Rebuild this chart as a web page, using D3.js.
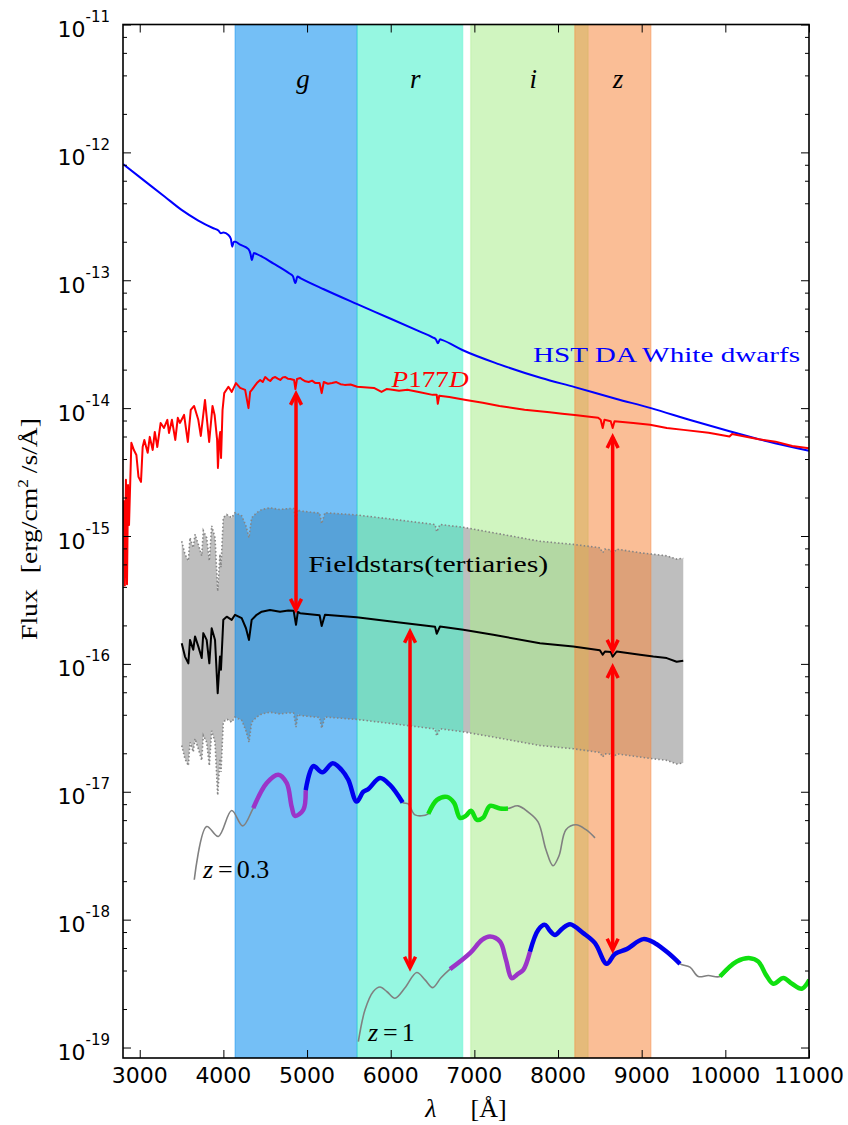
<!DOCTYPE html>
<html>
<head>
<meta charset="utf-8">
<script src="https://cdn.jsdelivr.net/npm/d3@7"></script>
<style>
  body { margin: 0; background: #fff; }
  .tick-label { font-family: "DejaVu Sans", sans-serif; fill: #000; }
  .serif { font-family: "Liberation Serif", "DejaVu Serif", serif; }
</style>
</head>
<body>
<svg id="chart" width="848" height="1125"></svg>
<script>
// ---- data ----
// filter bands (Angstrom)
const bandNames = ["g", "r", "i", "z"];
const bandLo = [4140, 5600, 6956, 8200];
const bandHi = [5600, 6860, 8360, 9110];

// HST DA white dwarf spectrum [lambda, flux]
const wdSpec = [
  [2800, 8.1e-13], [3000, 6.4e-13], [3300, 4.5e-13], [3500, 3.55e-13], [3700, 2.93e-13],
  [3880, 2.55e-13], [3940, 2.45e-13], [3970, 2.33e-13], [4000, 2.36e-13], [4060, 2.26e-13],
  [4090, 2.1e-13], [4105, 1.83e-13], [4125, 2.0e-13], [4140, 2.0e-13], [4200, 1.9e-13],
  [4300, 1.75e-13], [4325, 1.6e-13], [4340, 1.44e-13], [4365, 1.63e-13], [4400, 1.6e-13],
  [4600, 1.35e-13], [4790, 1.13e-13], [4830, 1.08e-13], [4861, 9.5e-14], [4885, 1.07e-13],
  [4920, 1.04e-13], [5200, 8.5e-14], [5600, 6.5e-14], [6000, 5.0e-14], [6350, 3.96e-14],
  [6500, 3.58e-14], [6540, 3.45e-14], [6563, 3.22e-14], [6590, 3.45e-14], [6620, 3.4e-14],
  [6856, 2.85e-14], [7300, 2.2e-14], [7800, 1.72e-14], [8200, 1.46e-14], [8700, 1.18e-14],
  [9110, 1.0e-14], [9600, 8.0e-15], [10050, 6.6e-15], [10500, 5.5e-15], [11000, 4.63e-15]
];

// P177D standard star spectrum [lambda, flux]
const p177dSpec = [
  [2810, 1.9e-15], [2822, 4.1e-16], [2835, 2.75e-15], [2848, 4.2e-16], [2860, 2.5e-15],
  [2872, 1.22e-15], [2900, 5.35e-15], [2930, 4.7e-15], [2960, 4.3e-15], [2985, 2.9e-15],
  [3015, 2.65e-15], [3035, 4.97e-15], [3055, 5.64e-15], [3095, 4.47e-15], [3120, 5.96e-15],
  [3155, 4.71e-15], [3180, 6.52e-15], [3210, 4.97e-15], [3250, 7.66e-15], [3290, 7.0e-15],
  [3330, 8.1e-15], [3350, 6.4e-15], [3385, 8.1e-15], [3425, 5.64e-15], [3455, 8.4e-15],
  [3480, 7.66e-15], [3530, 8.85e-15], [3575, 5.44e-15], [3610, 9.7e-15], [3650, 1.04e-14],
  [3700, 8.1e-15], [3730, 6.06e-15], [3780, 1.16e-14], [3830, 5.44e-15], [3870, 1.04e-14],
  [3895, 8.85e-15], [3925, 5.64e-15], [3935, 3.41e-15], [3950, 5.64e-15], [3962, 6.52e-15],
  [3972, 4.08e-15], [3990, 9.7e-15], [4010, 1.31e-14], [4060, 1.47e-14], [4100, 1.34e-14],
  [4150, 1.57e-14], [4200, 1.44e-14], [4260, 1.39e-14], [4300, 1.0e-14], [4320, 1.34e-14],
  [4340, 1.39e-14], [4400, 1.57e-14], [4440, 1.66e-14], [4470, 1.6e-14], [4500, 1.75e-14],
  [4530, 1.68e-14], [4560, 1.63e-14], [4590, 1.72e-14], [4620, 1.75e-14], [4650, 1.7e-14],
  [4680, 1.66e-14], [4710, 1.74e-14], [4740, 1.75e-14], [4770, 1.7e-14], [4800, 1.69e-14],
  [4845, 1.66e-14], [4861, 1.41e-14], [4880, 1.69e-14], [4920, 1.72e-14], [4950, 1.66e-14],
  [4980, 1.62e-14], [5020, 1.6e-14], [5060, 1.64e-14], [5100, 1.57e-14], [5150, 1.57e-14],
  [5175, 1.31e-14], [5200, 1.6e-14], [5250, 1.55e-14], [5300, 1.57e-14], [5350, 1.6e-14],
  [5400, 1.54e-14], [5450, 1.52e-14], [5520, 1.53e-14], [5600, 1.47e-14], [5800, 1.44e-14],
  [5890, 1.34e-14], [5950, 1.41e-14], [6000, 1.4e-14], [6100, 1.37e-14], [6200, 1.39e-14],
  [6350, 1.33e-14], [6500, 1.27e-14], [6550, 1.27e-14], [6563, 1.08e-14], [6580, 1.25e-14],
  [6700, 1.22e-14], [6900, 1.16e-14], [7100, 1.1e-14], [7300, 1.04e-14], [7500, 9.95e-15],
  [7600, 9.7e-15], [7900, 9.3e-15], [8050, 9.05e-15], [8200, 8.85e-15], [8350, 8.6e-15],
  [8480, 8.4e-15], [8510, 8.1e-15], [8534, 7.0e-15], [8555, 8.1e-15], [8630, 7.9e-15],
  [8653, 7.0e-15], [8675, 7.9e-15], [8900, 7.66e-15], [9100, 7.4e-15], [9300, 7.0e-15],
  [9500, 6.76e-15], [9800, 6.43e-15], [10050, 6.0e-15], [10080, 6.28e-15], [10400, 5.71e-15],
  [10600, 5.47e-15], [10800, 5.06e-15], [11000, 4.85e-15]
];

// field stars (tertiaries): typical spectrum and the upper / lower envelope
const fieldLambda = [
  3502, 3541, 3581, 3601, 3640, 3661, 3700, 3741, 3760, 3800, 3832, 3860, 3900, 3932, 3959,
  3971, 3999, 4040, 4099, 4139, 4219, 4270, 4306, 4338, 4398, 4458, 4557, 4677, 4776, 4840,
  4868, 4890, 4916, 5150, 5175, 5214, 5593, 6031, 6530, 6550, 6589, 6868, 7226, 7784, 8182,
  8500, 8534, 8561, 8630, 8653, 8701, 8980, 9139, 9299, 9418, 9497
];
const fieldMid = [
  1.45e-16, 1.14e-16, 1.01e-16, 1.54e-16, 1.29e-16, 1.64e-16, 1.37e-16, 1.11e-16, 1.74e-16, 1.54e-16,
  1.01e-16, 1.9e-16, 1.54e-16, 5.9e-17, 1.14e-16, 9.0e-17, 2.21e-16, 2.34e-16, 2.21e-16, 2.42e-16,
  2.28e-16, 1.9e-16, 1.54e-16, 2.21e-16, 2.42e-16, 2.56e-16, 2.64e-16, 2.56e-16, 2.61e-16, 2.6e-16,
  2.02e-16, 2.55e-16, 2.49e-16, 2.4e-16, 1.98e-16, 2.42e-16, 2.32e-16, 2.14e-16, 1.95e-16, 1.72e-16,
  1.96e-16, 1.85e-16, 1.69e-16, 1.45e-16, 1.37e-16, 1.28e-16, 1.18e-16, 1.25e-16, 1.24e-16, 1.14e-16,
  1.25e-16, 1.18e-16, 1.14e-16, 1.11e-16, 1.04e-16, 1.06e-16
];
const fieldHigh = [
  9.1e-16, 7.2e-16, 6.4e-16, 9.7e-16, 8.1e-16, 1.03e-15, 8.6e-16, 7.0e-16, 1.1e-15, 9.7e-16,
  6.4e-16, 1.2e-15, 9.7e-16, 3.7e-16, 7.2e-16, 5.7e-16, 1.39e-15, 1.47e-15, 1.39e-15, 1.52e-15,
  1.44e-15, 1.2e-15, 9.7e-16, 1.39e-15, 1.52e-15, 1.61e-15, 1.66e-15, 1.61e-15, 1.64e-15, 1.64e-15,
  1.27e-15, 1.61e-15, 1.57e-15, 1.51e-15, 1.25e-15, 1.52e-15, 1.46e-15, 1.35e-15, 1.23e-15, 1.08e-15,
  1.23e-15, 1.17e-15, 1.06e-15, 9.1e-16, 8.6e-16, 8.1e-16, 7.4e-16, 7.9e-16, 7.8e-16, 7.2e-16,
  7.9e-16, 7.4e-16, 7.2e-16, 7.0e-16, 6.6e-16, 6.7e-16
];
const fieldLow = [
  2.3e-17, 1.81e-17, 1.6e-17, 2.44e-17, 2.05e-17, 2.6e-17, 2.17e-17, 1.76e-17, 2.76e-17, 2.44e-17,
  1.6e-17, 3.0e-17, 2.44e-17, 9.4e-18, 1.81e-17, 1.43e-17, 3.5e-17, 3.7e-17, 3.5e-17, 3.84e-17,
  3.62e-17, 3.0e-17, 2.44e-17, 3.5e-17, 3.84e-17, 4.06e-17, 4.19e-17, 4.06e-17, 4.14e-17, 4.13e-17,
  3.2e-17, 4.05e-17, 3.95e-17, 3.81e-17, 3.14e-17, 3.84e-17, 3.68e-17, 3.4e-17, 3.1e-17, 2.73e-17,
  3.11e-17, 2.94e-17, 2.68e-17, 2.3e-17, 2.17e-17, 2.03e-17, 1.87e-17, 1.98e-17, 1.97e-17, 1.81e-17,
  1.98e-17, 1.87e-17, 1.81e-17, 1.76e-17, 1.65e-17, 1.68e-17
];

// galaxy template at z = 0.3 and z = 1 [lambda, flux]
const galZ03 = [
  [3652, 2.05e-18], [3800, 5.35e-18], [3939, 4.47e-18], [4099, 7.13e-18], [4231, 5.41e-18],
  [4357, 7.45e-18], [4518, 1.17e-17], [4656, 1.36e-17], [4757, 1.17e-17], [4816, 7.66e-18],
  [4856, 6.48e-18], [4955, 7.22e-18], [4984, 1.03e-17], [5075, 1.59e-17], [5182, 1.42e-17],
  [5307, 1.67e-17], [5414, 1.48e-17], [5493, 1.24e-17], [5593, 8.38e-18], [5672, 1.0e-17],
  [5732, 1.05e-17], [5872, 1.28e-17], [5991, 1.13e-17], [6143, 8.24e-18], [6210, 8.04e-18],
  [6290, 6.6e-18], [6449, 6.72e-18], [6553, 8.64e-18], [6673, 9.12e-18], [6757, 8.19e-18],
  [6828, 6.25e-18], [6900, 6.5e-18], [6960, 7.1e-18], [7031, 6.03e-18], [7103, 6.25e-18],
  [7187, 7.76e-18], [7306, 7.4e-18], [7402, 7.4e-18], [7521, 7.76e-18], [7641, 6.96e-18],
  [7761, 5.82e-18], [7856, 3.52e-18], [7940, 2.64e-18], [8012, 3.16e-18], [8095, 5.05e-18],
  [8215, 5.52e-18], [8334, 5.05e-18], [8442, 4.36e-18]
];
const galZ1 = [
  [5613, 1.11e-19], [5693, 1.97e-19], [5792, 2.74e-19], [5872, 2.97e-19], [5956, 2.73e-19],
  [6051, 2.43e-19], [6171, 2.93e-19], [6311, 3.86e-19], [6410, 3.38e-19], [6502, 2.94e-19],
  [6601, 3.51e-19], [6709, 4.1e-19], [6948, 5.47e-19], [7091, 6.95e-19], [7187, 7.38e-19],
  [7306, 6.74e-19], [7378, 4.85e-19], [7446, 3.49e-19], [7521, 3.77e-19], [7585, 4.05e-19],
  [7665, 5.63e-19], [7764, 8.32e-19], [7844, 9.1e-19], [7904, 8.17e-19], [7964, 7.6e-19],
  [8048, 8.47e-19], [8143, 9.22e-19], [8302, 7.84e-19], [8442, 6.55e-19], [8582, 4.51e-19],
  [8681, 5.4e-19], [8821, 5.88e-19], [9019, 7.04e-19], [9159, 6.55e-19], [9315, 5.5e-19],
  [9458, 4.51e-19], [9577, 4.25e-19], [9677, 3.59e-19], [9796, 3.66e-19], [9936, 3.59e-19],
  [10136, 4.7e-19], [10295, 5.0e-19], [10395, 4.7e-19], [10486, 3.7e-19], [10574, 3.15e-19],
  [10694, 3.49e-19], [10797, 3.15e-19], [10913, 2.88e-19], [11004, 3.38e-19]
];
// highlighted features of the galaxy template (lambda ranges)
const z03Features = [["uv", 4357, 4984], ["break", 4984, 6143], ["lines", 6449, 7402]];
const z1Features = [["uv", 6709, 7665], ["break", 7665, 9458], ["lines", 9936, 11004]];

// double-headed red arrows: lambda, top flux, bottom flux
const arrowLambda = [4868, 6231, 8653, 8653];
const arrowTop = [1.34e-14, 1.85e-16, 6.17e-15, 9.8e-17];
const arrowBottom = [2.55e-16, 4.05e-19, 1.22e-16, 5.6e-19];

const xTicks = [3000, 4000, 5000, 6000, 7000, 8000, 9000, 10000, 11000];
const yExponents = [-19, -18, -17, -16, -15, -14, -13, -12, -11];

// ---- chart ----
const svg = d3.select("#chart");
const plotLeft = 123, plotRight = 809, plotTop = 24.5, plotBottom = 1058;

const x = d3.scaleLinear().domain([2800, 11000]).range([plotLeft, plotRight]);
const y = d3.scaleLog().domain([8.28e-20, 1e-11]).range([plotBottom, plotTop]);

svg.append("rect").attr("width", 848).attr("height", 1125).attr("fill", "#fff");

svg.append("clipPath").attr("id", "clip")
  .append("rect")
  .attr("x", plotLeft).attr("y", plotTop)
  .attr("width", plotRight - plotLeft).attr("height", plotBottom - plotTop);

const plot = svg.append("g").attr("clip-path", "url(#clip)");

// grey envelope of the field stars
const envelope = d3.area()
  .x((d, i) => x(fieldLambda[i]))
  .y0((d, i) => y(fieldLow[i]))
  .y1((d, i) => y(fieldHigh[i]));
plot.append("path")
  .datum(fieldLambda)
  .attr("d", envelope)
  .attr("fill", "#bebebe");

// filter bands
const bandColors = ["rgb(2,138,239)", "rgb(64,240,200)", "rgb(170,237,140)", "rgb(246,137,64)"];
plot.selectAll("rect.band")
  .data(bandNames)
  .join("rect")
  .attr("class", "band")
  .attr("x", (d, i) => x(bandLo[i]))
  .attr("width", (d, i) => x(bandHi[i]) - x(bandLo[i]))
  .attr("y", plotTop)
  .attr("height", plotBottom - plotTop)
  .attr("fill", (d, i) => bandColors[i])
  .attr("fill-opacity", 0.55)
  .attr("stroke", (d, i) => bandColors[i])
  .attr("stroke-opacity", 0.35)
  .attr("stroke-width", 1.5);

const line = d3.line().x(d => x(d[0])).y(d => y(d[1]));

// dotted envelope edges
[fieldHigh, fieldLow].forEach(function(edge) {
  plot.append("path")
    .datum(fieldLambda.map((l, i) => [l, edge[i]]))
    .attr("d", line)
    .attr("fill", "none")
    .attr("stroke", "#858585")
    .attr("stroke-width", 1.6)
    .attr("stroke-dasharray", "1.5,2.2");
});

// typical field star
plot.append("path")
  .datum(fieldLambda.map((l, i) => [l, fieldMid[i]]))
  .attr("d", line)
  .attr("fill", "none")
  .attr("stroke", "#000")
  .attr("stroke-width", 2)
  .attr("stroke-linejoin", "round");

// white dwarf and P177D
plot.append("path")
  .datum(wdSpec)
  .attr("d", line.curve(d3.curveMonotoneX))
  .attr("fill", "none")
  .attr("stroke", "#0000ff")
  .attr("stroke-width", 2);
line.curve(d3.curveLinear);

plot.append("path")
  .datum(p177dSpec)
  .attr("d", line)
  .attr("fill", "none")
  .attr("stroke", "#ff0000")
  .attr("stroke-width", 2)
  .attr("stroke-linejoin", "round");

// galaxy templates
const smooth = d3.line().x(d => x(d[0])).y(d => y(d[1])).curve(d3.curveCatmullRom.alpha(0.5));
const featureColor = { uv: "#9b34c8", "break": "#0000ee", lines: "#10e010" };

function drawGalaxy(spec, features) {
  plot.append("path")
    .datum(spec)
    .attr("d", smooth)
    .attr("fill", "none")
    .attr("stroke", "#808080")
    .attr("stroke-width", 1.6);
  features.forEach(function(f) {
    plot.append("path")
      .datum(spec.filter(d => d[0] >= f[1] && d[0] <= f[2]))
      .attr("d", smooth)
      .attr("fill", "none")
      .attr("stroke", featureColor[f[0]])
      .attr("stroke-width", 4.5)
      .attr("stroke-linecap", "butt");
  });
}
drawGalaxy(galZ03, z03Features);
drawGalaxy(galZ1, z1Features);

// arrows
const arrows = plot.selectAll("g.arrow")
  .data(arrowLambda)
  .join("g")
  .attr("class", "arrow")
  .attr("stroke", "#ff0000")
  .attr("stroke-width", 3.5)
  .attr("fill", "none");
arrows.append("line")
  .attr("x1", d => x(d)).attr("x2", d => x(d))
  .attr("y1", (d, i) => y(arrowTop[i]) + 2)
  .attr("y2", (d, i) => y(arrowBottom[i]) - 2);
arrows.append("path")
  .attr("d", (d, i) => {
    const cx = x(d), yt = y(arrowTop[i]) + 2;
    return "M" + (cx - 5.5) + "," + (yt + 11) + "L" + cx + "," + yt + "L" + (cx + 5.5) + "," + (yt + 11);
  });
arrows.append("path")
  .attr("d", (d, i) => {
    const cx = x(d), yb = y(arrowBottom[i]) - 2;
    return "M" + (cx - 5.5) + "," + (yb - 11) + "L" + cx + "," + yb + "L" + (cx + 5.5) + "," + (yb - 11);
  });

// band labels, placed at the band centre
svg.selectAll("text.band-label")
  .data(bandNames)
  .join("text")
  .attr("class", "band-label serif")
  .attr("x", (d, i) => x((bandLo[i] + bandHi[i]) / 2))
  .attr("y", y(3.2e-12))
  .attr("font-size", 27)
  .attr("font-style", "italic")
  .text(d => d);

// curve labels
svg.append("text")
  .attr("class", "serif")
  .attr("x", x(7701)).attr("y", y(2.31e-14))
  .attr("font-size", 22)
  .attr("fill", "#0000ff")
  .attr("textLength", 267).attr("lengthAdjust", "spacingAndGlyphs")
  .text("HST DA White dwarfs");

const p177 = svg.append("text")
  .attr("class", "serif")
  .attr("x", x(6010)).attr("y", y(1.47e-14))
  .attr("font-size", 23)
  .attr("fill", "#ff0000")
  .attr("textLength", 77).attr("lengthAdjust", "spacingAndGlyphs");
p177.append("tspan").attr("font-style", "italic").text("P");
p177.append("tspan").text("177");
p177.append("tspan").attr("font-style", "italic").text("D");

svg.append("text")
  .attr("class", "serif")
  .attr("x", x(5015)).attr("y", y(5.27e-16))
  .attr("font-size", 24)
  .attr("textLength", 240).attr("lengthAdjust", "spacingAndGlyphs")
  .text("Fieldstars(tertiaries)");

function zLabel(lam, flux, value) {
  const t = svg.append("text")
    .attr("class", "serif")
    .attr("x", x(lam)).attr("y", y(flux))
    .attr("font-size", 26);
  t.append("tspan").attr("font-style", "italic").text("z");
  t.append("tspan").attr("dx", 5).text("=");
  t.append("tspan").attr("dx", 4).text(value);
}
zLabel(3756, 2.12e-18, "0.3");
zLabel(5728, 1.13e-19, "1");

// ticks on all four sides, pointing inward
const yMajor = yExponents.map(e => Math.pow(10, e));
const yMinor = [];
yExponents.forEach(function(e) {
  [2, 4, 6, 8].forEach(function(m) {
    const v = m * Math.pow(10, e);
    if (v > y.domain()[0] && v < y.domain()[1]) yMinor.push(v);
  });
});

function tickGroup(axis, tx, ty) {
  const g = svg.append("g").attr("transform", "translate(" + tx + "," + ty + ")").call(axis);
  g.select(".domain").remove();
  g.selectAll("text").remove();
  g.selectAll("line").attr("stroke", "#000").attr("stroke-width", 1);
}
tickGroup(d3.axisLeft(y).tickValues(yMajor).tickSize(-8), plotLeft, 0);
tickGroup(d3.axisLeft(y).tickValues(yMinor).tickSize(-4), plotLeft, 0);
tickGroup(d3.axisRight(y).tickValues(yMajor).tickSize(-8), plotRight, 0);
tickGroup(d3.axisRight(y).tickValues(yMinor).tickSize(-4), plotRight, 0);
tickGroup(d3.axisBottom(x).tickValues(xTicks).tickSize(-8), 0, plotBottom);
tickGroup(d3.axisTop(x).tickValues(xTicks).tickSize(-8), 0, plotTop);

// frame
svg.append("rect")
  .attr("x", plotLeft).attr("y", plotTop)
  .attr("width", plotRight - plotLeft).attr("height", plotBottom - plotTop)
  .attr("fill", "none")
  .attr("stroke", "#000")
  .attr("stroke-width", 1.6);

// tick labels
svg.selectAll("text.xtick")
  .data(xTicks)
  .join("text")
  .attr("class", "xtick tick-label")
  .attr("x", d => x(d))
  .attr("y", 1083)
  .attr("text-anchor", "middle")
  .attr("font-size", 22)
  .text(d => d);

const ylab = svg.selectAll("text.ytick")
  .data(yExponents)
  .join("text")
  .attr("class", "ytick tick-label")
  .attr("x", 110)
  .attr("y", d => y(Math.pow(10, d)) + 12.5)
  .attr("text-anchor", "end")
  .attr("font-size", 22);
ylab.append("tspan").text("10");
ylab.append("tspan").attr("dy", -15).attr("font-size", 15).text(d => "-" + Math.abs(d));

// axis titles
const xt = svg.append("text")
  .attr("class", "serif")
  .attr("x", (plotLeft + plotRight) / 2)
  .attr("y", 1117)
  .attr("text-anchor", "middle")
  .attr("font-size", 26);
xt.append("tspan").attr("font-style", "italic").text("λ");
xt.append("tspan").attr("dx", 34).text("[Å]");

const yt = svg.append("text")
  .attr("class", "serif")
  .attr("transform", "translate(37,529) rotate(-90)")
  .attr("text-anchor", "middle")
  .attr("font-size", 24)
  .attr("textLength", 222).attr("lengthAdjust", "spacingAndGlyphs");
yt.append("tspan").text("Flux");
yt.append("tspan").attr("dx", 14).text("[erg/cm");
yt.append("tspan").attr("dy", -9).attr("font-size", 15).text("2");
yt.append("tspan").attr("dy", 9).attr("dx", 5).text("/s/Å]");
</script>
</body>
</html>
